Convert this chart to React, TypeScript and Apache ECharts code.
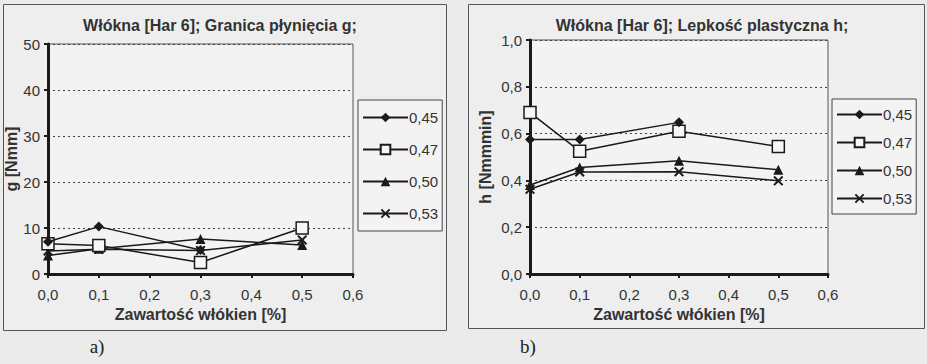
import React, { useEffect, useRef } from 'react';
import * as echarts from 'echarts';

// ---- data ----
const fiberContent = [0, 0.1, 0.3, 0.5];
const seriesNames = ['0,45', '0,47', '0,50', '0,53'];

// a) yield stress g [Nmm]
const g045 = [7.0, 10.3, 5.2, null];
const g047 = [6.6, 6.2, 2.5, 10.0];
const g050 = [4.0, 5.5, 7.6, 6.3];
const g053 = [5.0, 5.4, 5.1, 7.4];

// b) plastic viscosity h [Nmmmin]
const h045 = [0.575, 0.575, 0.648, null];
const h047 = [0.69, 0.525, 0.61, 0.545];
const h050 = [0.38, 0.455, 0.484, 0.445];
const h053 = [0.362, 0.436, 0.437, 0.398];

const xTicks = [0, 0.1, 0.2, 0.3, 0.4, 0.5, 0.6];
const gTicks = [0, 10, 20, 30, 40, 50];
const hTicks = [0, 0.2, 0.4, 0.6, 0.8, 1.0];

const titleA = 'Włókna [Har 6]; Granica płynięcia g;';
const titleB = 'Włókna [Har 6]; Lepkość plastyczna h;';
const xName = 'Zawartość włókien [%]';
const yNameA = 'g [Nmm]';
const yNameB = 'h [Nmmmin]';

const FONT = '"Liberation Sans", Arial, sans-serif';
const INK = '#1a1a1a';
const TXT = '#333333';

const xPath = 'path://M0,1.4 L1.4,0 L5,3.6 L8.6,0 L10,1.4 L6.4,5 L10,8.6 L8.6,10 L5,6.4 L1.4,10 L0,8.6 L3.6,5 Z';

const symbolDefs = [
  { symbol: 'diamond', symbolSize: 10, itemStyle: { color: INK } },
  { symbol: 'rect', symbolSize: 12, itemStyle: { color: '#f6f6f6', borderColor: INK, borderWidth: 1.5 } },
  { symbol: 'triangle', symbolSize: 10, itemStyle: { color: INK } },
  { symbol: xPath, symbolSize: 10, itemStyle: { color: INK } },
];

const comma = (v: number) => v.toFixed(1).replace('.', ',');

function pairs(vals: (number | null)[]) {
  const out: [number, number][] = [];
  vals.forEach((v, i) => {
    if (v !== null) out.push([fiberContent[i], v]);
  });
  return out;
}

function axisCommon() {
  return {
    axisLine: { show: true, onZero: false, lineStyle: { color: INK, width: 3 } },
    axisTick: { show: true, inside: false, length: 4, lineStyle: { color: INK, width: 2 } },
    axisLabel: { color: TXT, fontFamily: FONT, fontSize: 15 },
    nameTextStyle: { color: TXT, fontFamily: FONT, fontSize: 16, fontWeight: 'bold' as const },
  };
}

export default function App() {
  const ref = useRef<HTMLDivElement>(null);

  useEffect(() => {
    if (!ref.current) return;
    const chart = echarts.init(ref.current, undefined, { renderer: 'svg' });

    const gSeries = [g045, g047, g050, g053];
    const hSeries = [h045, h047, h050, h053];

    const series: any[] = [];
    [gSeries, hSeries].forEach((set, gi) => {
      set.forEach((vals, si) => {
        series.push({
          type: 'line',
          name: seriesNames[si],
          xAxisIndex: gi,
          yAxisIndex: gi,
          data: pairs(vals),
          ...symbolDefs[si],
          showSymbol: true,
          lineStyle: { color: INK, width: 1.5 },
          emphasis: { disabled: true },
          z: 3 + (3 - si),
        });
      });
    });

    const splitLine = { show: true, lineStyle: { color: '#444', width: 1, type: [2, 3] } };

    const legendBase = {
      orient: 'vertical',
      itemWidth: 45,
      itemHeight: 12,
      borderColor: '#444',
      borderWidth: 1,
      backgroundColor: '#f3f3f3',
      data: seriesNames,
      textStyle: { color: TXT, fontFamily: FONT, fontSize: 15, padding: [0, 0, 0, -4] },
      selectedMode: false,
    };

    chart.setOption({
      animation: false,
      backgroundColor: '#ebebeb',
      grid: [
        { left: 48, top: 44, width: 305, height: 230, show: true, backgroundColor: '#f3f3f3', borderColor: '#555', borderWidth: 1 },
        { left: 530, top: 40, width: 298, height: 234, show: true, backgroundColor: '#f3f3f3', borderColor: '#555', borderWidth: 1 },
      ],
      xAxis: [0, 1].map((gi) => ({
        type: 'value',
        gridIndex: gi,
        min: xTicks[0],
        max: xTicks[xTicks.length - 1],
        interval: 0.1,
        name: xName,
        nameLocation: 'middle',
        nameGap: 30,
        ...axisCommon(),
        axisLabel: { ...axisCommon().axisLabel, margin: 13, formatter: (v: number) => comma(v) },
        splitLine: { show: false },
      })),
      yAxis: [
        {
          type: 'value',
          gridIndex: 0,
          min: gTicks[0],
          max: gTicks[gTicks.length - 1],
          interval: 10,
          name: yNameA,
          nameLocation: 'middle',
          nameGap: 23,
          ...axisCommon(),
          axisLabel: { ...axisCommon().axisLabel, margin: 8, formatter: (v: number) => String(v) },
          splitLine,
        },
        {
          type: 'value',
          gridIndex: 1,
          min: hTicks[0],
          max: hTicks[hTicks.length - 1],
          interval: 0.2,
          name: yNameB,
          nameLocation: 'middle',
          nameGap: 37,
          ...axisCommon(),
          axisLabel: { ...axisCommon().axisLabel, margin: 8, formatter: (v: number) => comma(v) },
          splitLine,
        },
      ],
      legend: [
        { ...legendBase, left: 358, top: 100, padding: [10, 4, 10, 4], itemGap: 17 },
        { ...legendBase, left: 832, top: 99, padding: [8, 4, 8, 4], itemGap: 13 },
      ],
      graphic: [
        { type: 'rect', shape: { x: 3.5, y: 4.5, width: 443, height: 326 }, style: { fill: '#eeeeee', stroke: '#555', lineWidth: 1 }, z: -10 },
        { type: 'rect', shape: { x: 468.5, y: 4.5, width: 456, height: 324 }, style: { fill: '#eeeeee', stroke: '#555', lineWidth: 1 }, z: -10 },
        { type: 'text', x: 220, y: 25, style: { text: titleA, fill: TXT, font: `bold 16px ${FONT}`, textAlign: 'center', textVerticalAlign: 'middle' } },
        { type: 'text', x: 702, y: 25, style: { text: titleB, fill: TXT, font: `bold 16px ${FONT}`, textAlign: 'center', textVerticalAlign: 'middle' } },
        { type: 'text', x: 97, y: 346, style: { text: 'a)', fill: '#222', font: '19px "Liberation Serif", "DejaVu Serif", serif', textAlign: 'center', textVerticalAlign: 'middle' } },
        { type: 'text', x: 528, y: 346, style: { text: 'b)', fill: '#222', font: '19px "Liberation Serif", "DejaVu Serif", serif', textAlign: 'center', textVerticalAlign: 'middle' } },
      ],
      series,
    });

    return () => chart.dispose();
  }, []);

  return <div ref={ref} style={{ position: 'absolute', left: 0, top: 0, width: 927, height: 364 }} />;
}
